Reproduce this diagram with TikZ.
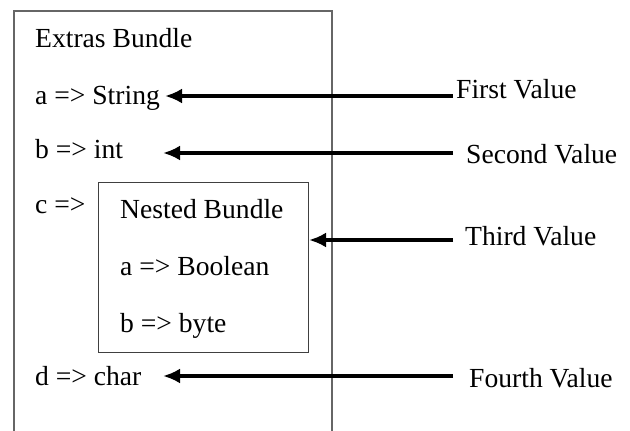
\documentclass[tikz,border=0pt]{standalone}
\usepackage{fontspec}
\setmainfont{Liberation Serif}
\usetikzlibrary{arrows.meta}
\tikzset{
    lbl/.style={anchor=base west, inner sep=0pt}, % text set on its baseline
    frame/.style={draw=black!60, line width=1.4pt}, % outer bundle frame
    inner frame/.style={draw=black!75, line width=1.4pt}, % nested bundle frame
    valarrow/.style={line width=4pt, -{Latex[length=17pt, width=15pt]}}
}

\begin{document}
\begin{tikzpicture}[x=1pt, y=1pt, font=\fontsize{27.6}{33}\selectfont]
    \useasboundingbox (0,0) rectangle (630,-431);

    % outer bundle, open at the bottom
    \draw[frame] (14,-431) -- (14,-11) -- (332,-11) -- (332,-431);

    \node[lbl] (extras) at (35,-47) {Extras Bundle};
    \node[lbl] (keyA) at (35,-104) {a => String};
    \node[lbl] (keyB) at (35,-158) {b => int};
    \node[lbl] (keyC) at (35,-213) {c =>};
    \node[lbl] (keyD) at (35,-385) {d => char};

    % nested bundle
    \node[inner frame, anchor=north west, minimum width=210, minimum height=170, inner sep=0pt] (nested) at (98,-182) {};
    \node[lbl] (nestTitle) at (120,-218) {Nested Bundle};
    \node[lbl] (nestA) at (120,-275) {a => Boolean};
    \node[lbl] (nestB) at (120,-332) {b => byte};

    % value labels with their arrows
    \foreach \i/\txt/\lx/\ly/\tx/\ty in {1/First/456/98/165/96, 2/Second/466/163/163/153, 3/Third/465/245/309/240, 4/Fourth/469/387/163/376} {
        \node[lbl] (val\i) at (\lx,-\ly) {\txt{} Value};
        \coordinate (tail\i) at (453,-\ty);
        \coordinate (tip\i) at (\tx,-\ty);
        \draw[valarrow] (tail\i) -- (tip\i);
    }
\end{tikzpicture}
\end{document}
